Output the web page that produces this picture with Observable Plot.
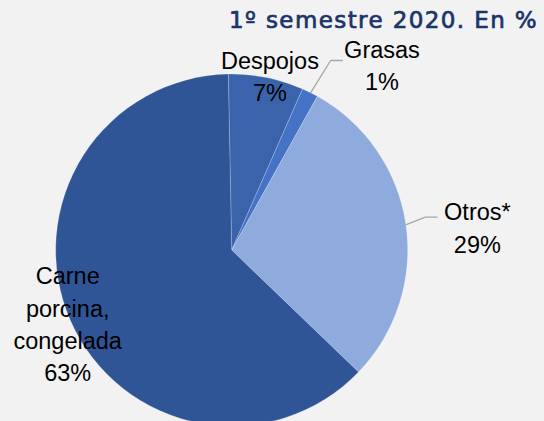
<!DOCTYPE html>
<html>
<head>
<meta charset="utf-8">
<script src="https://cdn.jsdelivr.net/npm/d3@7"></script>
<script src="https://cdn.jsdelivr.net/npm/@observablehq/plot@0.6"></script>
<style>
  html, body { margin: 0; padding: 0; background: #f2f2f2; }
  body { width: 544px; height: 421px; overflow: hidden; }
  #head { position: relative; height: 28px; }
  #title { position: absolute; left: 229px; top: 9px; font-family: "DejaVu Sans", sans-serif; font-weight: normal;
           font-size: 23px; line-height: 23px; letter-spacing: 1.4px; color: #1b3469; white-space: nowrap; z-index: 2;
           -webkit-text-stroke: 0.7px #1b3469; }
  #chart svg { display: block; }
</style>
</head>
<body>
<div id="head"><div id="title">1º semestre 2020. En %</div></div>
<div id="chart"></div>
<script>
// ---- data ----
const categories = ["Despojos", "Grasas", "Otros*", "Carne porcina, congelada"];
const values = [6.9, 1.5, 29.1, 62.5];
const pctLabels = ["7%", "1%", "29%", "63%"];

// ---- style / layout ----
const colors = ["#3a63ab", "#4472c4", "#8faadc", "#2f5597"];
const W = 544, H = 393;
const CX = 231.7, CY = 222, R = 176;          // pie centre & radius (px, in the svg)
const startDeg = -1.1;                          // first slice angle
const labelRadius = [1.02, 1.36, 1.40, 1.02];   // label anchor radius (x R)
const labelShift = [0.8, 12.3, 2.8, 0];         // label anchor angle shift (deg)
const leaderElbowR = [null, 1.216, 1.114, null];
const leaderElbowShift = [0, 0.95, -1.3, 0];
const leaderLen = [0, 0.066, 0.066, 0];

const rad = d => d * Math.PI / 180;
const polar = (deg, r) => ({x: r * Math.sin(rad(deg)), y: r * Math.cos(rad(deg))});

const slices = categories.map((name, i) => ({name, value: values[i], color: colors[i], pct: pctLabels[i]}));
const pieGen = d3.pie().sort(null).value(d => d.value)
  .startAngle(rad(startDeg)).endAngle(rad(startDeg) + 2 * Math.PI);
const arcs = pieGen(slices);
const midDeg = arcs.map(a => ((a.startAngle + a.endAngle) / 2) * 180 / Math.PI);

const labels = slices.map((s, i) => {
  const p = polar(midDeg[i] + labelShift[i], labelRadius[i]);
  return {x: p.x, y: p.y, text: s.name.split(" ").join("\n") + "\n" + s.pct};
});

const leaders = [];
slices.forEach((s, i) => {
  if (leaderElbowR[i] == null) return;
  const p0 = polar(midDeg[i], 1.0);
  const p1 = polar(midDeg[i] + leaderElbowShift[i], leaderElbowR[i]);
  leaders.push({z: s.name, x: p0.x, y: p0.y});
  leaders.push({z: s.name, x: p1.x, y: p1.y});
  leaders.push({z: s.name, x: p1.x + leaderLen[i], y: p1.y});
});

function pieMark(index, scales) {
  const cx = scales.x(0), cy = scales.y(0), r = scales.x(1) - scales.x(0);
  const arc = d3.arc().innerRadius(0).outerRadius(r);
  const g = d3.create("svg:g").attr("transform", `translate(${cx},${cy})`);
  g.selectAll("path").data(arcs).join("path")
    .attr("d", arc)
    .attr("fill", d => d.data.color)
    .attr("stroke", "#ffffff")
    .attr("stroke-opacity", 0.35)
    .attr("stroke-width", 0.6);
  return g.node();
}

const chart = Plot.plot({
  width: W,
  height: H,
  margin: 0,
  x: {domain: [-CX / R, (W - CX) / R], range: [0, W], axis: null},
  y: {domain: [(CY - H) / R, CY / R], range: [H, 0], axis: null},
  style: {background: "transparent", overflow: "visible"},
  marks: [
    pieMark,
    Plot.line(leaders, {x: "x", y: "y", z: "z", stroke: "#a6a6a6", strokeWidth: 1.3}),
    Plot.text(labels, {x: "x", y: "y", text: "text", fontSize: 23.5, fontFamily: "Liberation Sans",
      lineHeight: 1.37, fill: "#000000", textAnchor: "middle", lineAnchor: "middle"})
  ]
});
document.getElementById("chart").appendChild(chart);
</script>
</body>
</html>
